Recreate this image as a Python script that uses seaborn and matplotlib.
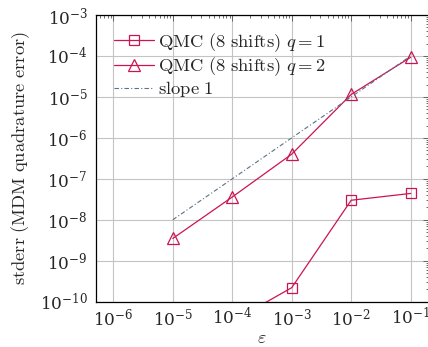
import numpy as np
import pandas as pd
import matplotlib
matplotlib.use("Agg")
import matplotlib.pyplot as plt
import matplotlib.ticker as mticker
import seaborn as sns

# data
eps_q1 = [1e-4, 1e-3, 1e-2, 1e-1]
err_q1 = [3.3e-11, 2.2e-10, 3.0e-8, 4.4e-8]
eps_q2 = [1e-5, 1e-4, 1e-3, 1e-2, 1e-1]
err_q2 = [3.5e-9, 3.6e-8, 4.0e-7, 1.15e-5, 9.3e-5]
eps_slope = [1e-5, 1e-1]
err_slope = [1e-8, 1e-4]

labels = [r"$\mathrm{QMC\ (8\ shifts)}\ q = 1$",
          r"$\mathrm{QMC\ (8\ shifts)}\ q = 2$",
          r"$\mathrm{slope\ 1}$"]
xticks = [1e-6, 1e-5, 1e-4, 1e-3, 1e-2, 1e-1]
yticks = [1e-10, 1e-9, 1e-8, 1e-7, 1e-6, 1e-5, 1e-4, 1e-3]

sns.set_theme(style="white")
plt.rcParams["mathtext.fontset"] = "cm"
plt.rcParams["font.family"] = ["DejaVu Serif"]
plt.rcParams["axes.unicode_minus"] = True

df1 = pd.DataFrame({"eps": eps_q1, "err": err_q1})
df2 = pd.DataFrame({"eps": eps_q2, "err": err_q2})
df3 = pd.DataFrame({"eps": eps_slope, "err": err_slope})

fig = plt.figure(figsize=(4.28, 3.47), dpi=100)
ax = fig.add_axes([96 / 428, 1 - 301.7 / 347, 332.5 / 428, (301.7 - 15) / 347])
ax.set_xscale("log")
ax.set_yscale("log")

red = "#cc1452"
sns.lineplot(data=df1, x="eps", y="err", ax=ax, color=red, linewidth=0.9,
             marker="s", markersize=7, markerfacecolor="none",
             markeredgecolor=red, markeredgewidth=0.9, label=labels[0])
sns.lineplot(data=df2, x="eps", y="err", ax=ax, color=red, linewidth=0.9,
             marker="^", markersize=8.5, markerfacecolor="none",
             markeredgecolor=red, markeredgewidth=0.9, label=labels[1])
sns.lineplot(data=df3, x="eps", y="err", ax=ax, color="#5c7184", linewidth=0.8,
             dashes=False, label=labels[2])
ax.lines[-1].set_dashes([4, 2, 1, 2])

ax.set_xlim(10 ** -6.291, 10 ** -0.70)
ax.set_ylim(1e-10, 1e-3)
ax.set_xticks(xticks)
ax.set_yticks(yticks)
ax.xaxis.set_minor_locator(mticker.LogLocator(base=10, subs=np.arange(2, 10), numticks=100))
ax.yaxis.set_minor_locator(mticker.LogLocator(base=10, subs=np.arange(2, 10), numticks=100))
ax.xaxis.set_minor_formatter(mticker.NullFormatter())
ax.yaxis.set_minor_formatter(mticker.NullFormatter())
ax.xaxis.set_major_formatter(mticker.LogFormatterMathtext())
ax.yaxis.set_major_formatter(mticker.LogFormatterMathtext())

ax.grid(True, which="major", color="#c4c4c4", linewidth=0.8)
ax.tick_params(which="both", direction="in", top=True, right=True,
               labelsize=12.2, color="#555555", width=0.6)
ax.tick_params(which="major", length=4.5, pad=6)
ax.tick_params(axis="x", which="major", pad=4)
ax.tick_params(which="minor", length=2.5)
for s in ax.spines.values():
    s.set_color("black")
    s.set_linewidth(0.9)

ax.set_xlabel(r"$\varepsilon$", fontsize=13, va="center")
ax.xaxis.set_label_coords(0.5, -0.127)
ax.set_ylabel(r"$\mathrm{stderr\ (MDM\ quadrature\ error)}$", fontsize=13.3, labelpad=6)

leg = ax.legend(loc="upper left", frameon=False, fontsize=13.4,
                handlelength=2.1, handletextpad=0.25, labelspacing=0.08,
                borderaxespad=0.0, bbox_to_anchor=(0.033, 0.97))

fig.savefig("out.png", dpi=100)
